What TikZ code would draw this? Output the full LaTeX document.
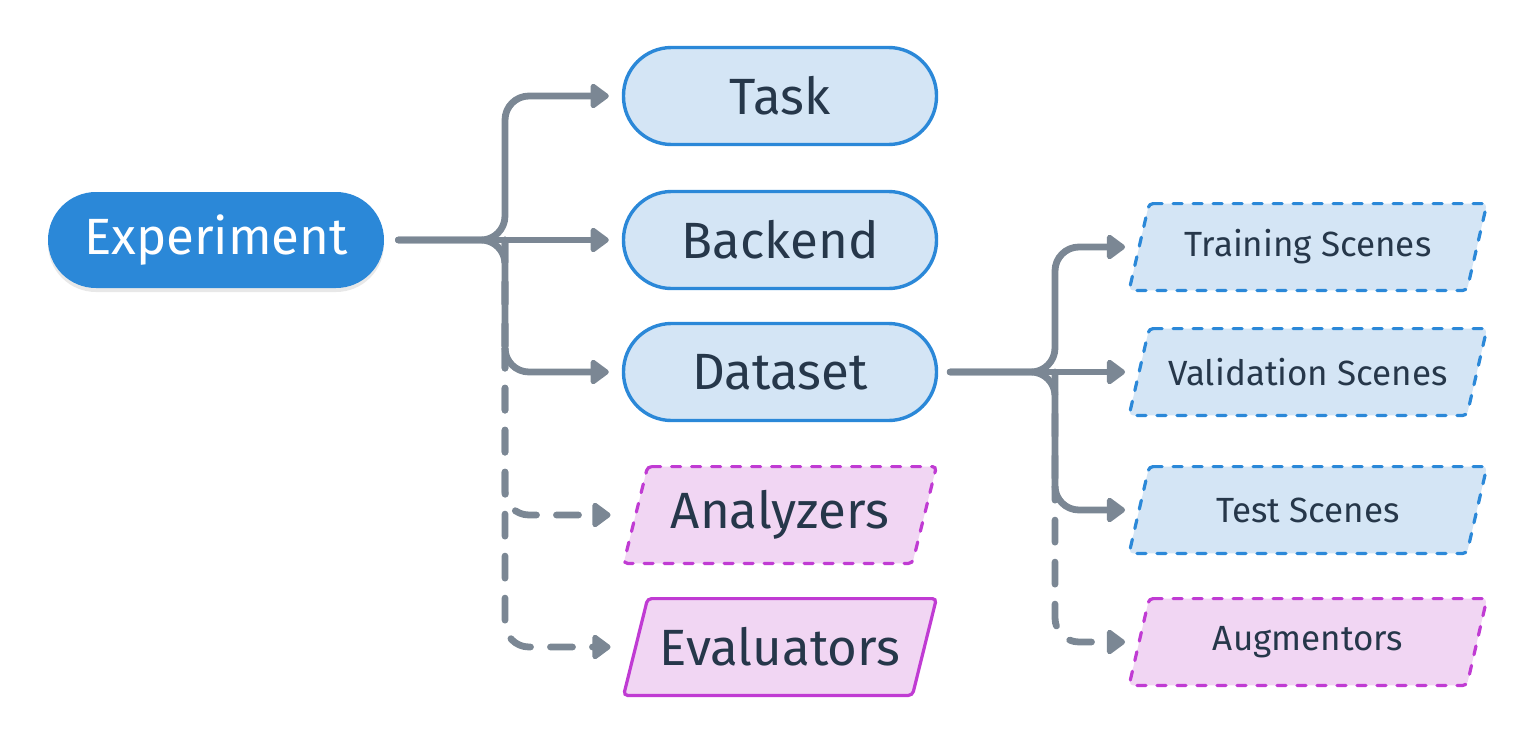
\documentclass[tikz,border=0pt]{standalone}
\usepackage{fontspec}
\setmainfont{Fira Sans}
\usetikzlibrary{shadows,backgrounds,arrows.meta}
\definecolor{edgec}{HTML}{7B8794}
\definecolor{cblue}{HTML}{2B88D8}
\definecolor{lblue}{HTML}{D4E5F5}
\definecolor{cmag}{HTML}{C03BD3}
\definecolor{lmag}{HTML}{F1D6F3}
\definecolor{txt}{HTML}{26374A}
\tikzset{
  pill/.style={rectangle, rounded corners=24pt, minimum width=156.5pt, minimum height=48.5pt,
    line width=1.7pt, text=txt, font=\fontsize{25.5}{30}\selectfont},
  bluepill/.style={pill, draw=cblue, fill=lblue},
  exppill/.style={rectangle, rounded corners=24pt, minimum width=168pt, minimum height=48pt,
    fill=cblue, text=white, font=\fontsize{25.5}{30}\selectfont,
    drop shadow={opacity=0.15, shadow xshift=0pt, shadow yshift=-2pt, fill=black!60}},
  biglab/.style={minimum width=156pt, minimum height=48pt, text=txt, font=\fontsize{25.5}{30}\selectfont},
  smalllab/.style={minimum width=178.5pt, minimum height=43pt, text=txt, font=\fontsize{17.5}{21}\selectfont},
  pdash/.style={line width=1.6pt, line cap=round, dash pattern=on 4.5pt off 5.5pt},
  conn/.style={draw=edgec, line width=3.4pt, line cap=round, rounded corners=12pt,
    -{Triangle[length=10pt,width=14pt,round]}},
  dconn/.style={conn, dash pattern=on 11pt off 10pt},
}
\begin{document}
\begin{tikzpicture}[x=0.5pt,y=-0.5pt]
\useasboundingbox (0,0) rectangle (1536,744);
\node[exppill] (exp) at (216,240) {Experiment};
\node[bluepill] (task) at (780,96) {Task};
\node[bluepill] (back) at (780,240) {Backend};
\node[bluepill] (data) at (780,372) {Dataset};
\node[biglab] (ana) at (780,515) {Analyzers};
\node[biglab] (eval) at (780,647) {Evaluators};
\node[smalllab] (train) at (1308,247) {Training Scenes};
\node[smalllab] (valid) at (1308,372) {Validation Scenes};
\node[smalllab] (test) at (1308,510) {Test Scenes};
\node[smalllab] (aug) at (1308,642) {Augmentors};
\begin{scope}[on background layer]
  \path[fill=lmag, draw=cmag, rounded corners=2pt, pdash]
    ([xshift=12pt]ana.north west) -- (ana.north east) -- ([xshift=-12pt]ana.south east) -- (ana.south west) -- cycle;
  \path[fill=lmag, draw=cmag, rounded corners=2pt, line width=1.6pt]
    ([xshift=12pt]eval.north west) -- (eval.north east) -- ([xshift=-12pt]eval.south east) -- (eval.south west) -- cycle;
  \path[fill=lblue, draw=cblue, rounded corners=2pt, pdash]
    ([xshift=10pt]train.north west) -- (train.north east) -- ([xshift=-10pt]train.south east) -- (train.south west) -- cycle;
  \path[fill=lblue, draw=cblue, rounded corners=2pt, pdash]
    ([xshift=10pt]valid.north west) -- (valid.north east) -- ([xshift=-10pt]valid.south east) -- (valid.south west) -- cycle;
  \path[fill=lblue, draw=cblue, rounded corners=2pt, pdash]
    ([xshift=10pt]test.north west) -- (test.north east) -- ([xshift=-10pt]test.south east) -- (test.south west) -- cycle;
  \path[fill=lmag, draw=cmag, rounded corners=2pt, pdash]
    ([xshift=10pt]aug.north west) -- (aug.north east) -- ([xshift=-10pt]aug.south east) -- (aug.south west) -- cycle;
\end{scope}
\coordinate (t1) at (505,240);
\coordinate (t2) at (1055,372);
% dashed first so solid lines sit on top
\draw[dconn] (t1) -- (t1 |- data.west) -| (t1 |- ana.west) -- ([xshift=-6.5pt]ana.west);
\draw[dconn] (t1) -- (t1 |- data.west) -| (t1 |- eval.west) -- ([xshift=-6.5pt]eval.west);
\draw[dconn] (t2) -- (t2 |- test.west) -| (t2 |- aug.west) -- ([xshift=-2pt]aug.west);
\draw[conn] ([xshift=7pt]exp.east) -| (t1 |- task.west) -- ([xshift=-6.5pt]task.west);
\draw[conn] ([xshift=7pt]exp.east) -- ([xshift=-6.5pt]back.west);
\draw[conn] ([xshift=7pt]exp.east) -| (t1 |- data.west) -- ([xshift=-6.5pt]data.west);
\draw[conn] ([xshift=6pt]data.east) -| (t2 |- train.west) -- ([xshift=-2pt]train.west);
\draw[conn] ([xshift=6pt]data.east) -- ([xshift=-2pt]valid.west);
\draw[conn] ([xshift=6pt]data.east) -| (t2 |- test.west) -- ([xshift=-2pt]test.west);
\end{tikzpicture}
\end{document}
